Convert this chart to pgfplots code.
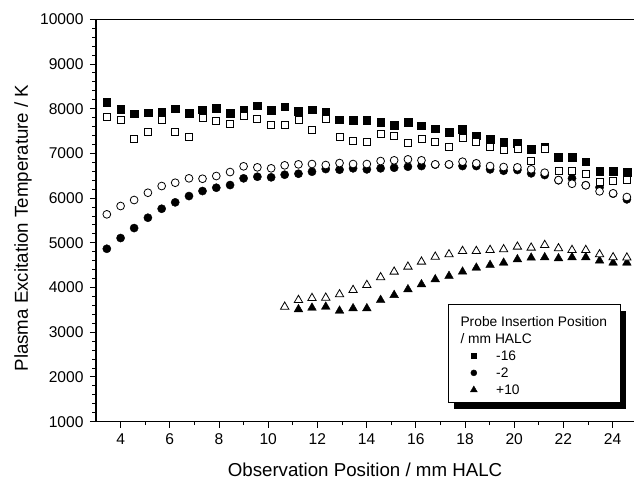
\documentclass[border=0pt]{standalone}
\usepackage{pgfplots}
\pgfplotsset{compat=1.18}
\usepackage{pgfplotstable}
\usepackage{fontspec}
\setmainfont{Liberation Sans}
\usetikzlibrary{shadows}

\pgfplotstableread{
x sqf sqo cif cio
3.44 8143 7821 4868 5638
4.00 7987 7747 5108 5824
4.55 7888 7329 5331 5958
5.11 7911 7472 5562 6121
5.67 7920 7754 5763 6271
6.22 8000 7486 5906 6345
6.78 7904 7374 6047 6443
7.33 7978 7799 6159 6434
7.89 8009 7725 6233 6495
8.45 7904 7665 6293 6584
9.00 7971 7844 6443 6712
9.56 8067 7770 6479 6689
10.12 7971 7642 6466 6667
10.67 8045 7629 6524 6734
11.23 7949 7747 6546 6756
11.78 7978 7524 6591 6763
12.34 7920 7763 6651 6741
12.90 7754 7367 6636 6785
13.45 7741 7277 6667 6763
14.01 7747 7248 6644 6763
14.57 7703 7434 6667 6830
15.12 7636 7389 6680 6846
15.68 7696 7226 6703 6868
16.23 7620 7329 6718 6846
16.79 7553 7248 6750 6756
17.35 7479 7137 6750 6756
17.90 7539 7351 6718 6815
18.46 7396 7255 6718 6779
19.02 7322 7137 6644 6718
19.57 7255 7083 6613 6696
20.13 7233 7092 6630 6689
20.69 7092 6837 6555 6644
21.24 7150 7092 6517 6569
21.80 6913 6613 6400 6405
22.35 6913 6613 6443 6322
22.91 6815 6539 6290 6287
23.47 6606 6367 6242 6152
24.02 6600 6389 6100 6108
24.58 6584 6405 5973 6025
}\mainT

\pgfplotstableread{
x trf tro
10.67 nan 3571
11.23 3513 3721
11.78 3548 3765
12.34 3571 3772
12.90 3481 3848
13.45 3535 3944
14.01 3535 4056
14.57 3721 4229
15.12 3832 4354
15.68 3960 4466
16.23 4072 4578
16.79 4184 4689
17.35 4258 4743
17.90 4354 4817
18.46 4443 4817
19.02 4504 4839
19.57 4555 4855
20.13 4631 4913
20.69 4667 4891
21.24 4676 4951
21.80 4654 4877
22.35 4676 4839
22.91 4676 4839
23.47 4600 4743
24.02 4555 4676
24.58 4555 4670
}\triT

\begin{document}
\begin{tikzpicture}
\begin{axis}[
  at={(0pt,0pt)}, anchor=south west,
  scale only axis, width=538pt, height=402.4pt,
  xmin=3, xmax=24.87, ymin=1000, ymax=10000,
  axis x line*=box, axis y line*=left,
  axis line style={line width=1.1pt, black},
  tick pos=left, tick align=outside,
  xtick={4,6,...,24}, minor x tick num=1,
  ytick={1000,2000,...,10000}, minor y tick num=4,
  scaled y ticks=false, scaled x ticks=false,
  major tick length=6pt, minor tick length=3.5pt,
  every tick/.style={black, line width=1pt},
  /pgf/number format/assume math mode=true,
  /pgf/number format/1000 sep={},
  tick label style={font=\fontsize{15.6}{17}\selectfont},
  yticklabel style={xshift=-3pt},
  xticklabel style={yshift=-2.5pt},
  label style={font=\fontsize{18.7}{22}\selectfont},
  xlabel={Observation Position / mm HALC},
  ylabel={Plasma Excitation Temperature / K},
  xlabel style={at={(axis description cs:0.5,-0.135)}, anchor=base},
  ylabel style={at={(axis description cs:-0.1357,0.4814)}, anchor=center},
  legend image code/.code={\path (-15pt,0pt) (10pt,0pt); \draw[#1] plot coordinates {(0pt,4.9pt)};},
  legend style={
    at={(axis cs:17.31,3631)}, anchor=north west,
    draw=black, line width=0.8pt, fill=white,
    inner xsep=10pt, inner ysep=6.2pt,
    column sep=9pt,
    font=\fontsize{13.8}{16}\selectfont,
    cells={anchor=base west},
    nodes={inner xsep=3pt, inner ysep=1.3pt, text height=14.5pt, text depth=0pt},
    drop shadow={shadow xshift=6pt, shadow yshift=-7pt, fill=black, opacity=1, draw=none},
  },
]
\addlegendimage{empty legend}
\addlegendentry{\hspace*{-35.7pt}Probe Insertion Position}
\addlegendimage{empty legend}
\addlegendentry{\hspace*{-35.7pt}/ mm HALC}

\addplot[only marks, mark=square*, mark size=3.85pt, mark options={fill=black, draw=black, line width=0.4pt}, legend image post style={mark size=2.8pt}] table[x=x, y=sqf]{\mainT};
\addlegendentry{-16}
\addplot[only marks, mark=*, mark size=4.1pt, mark options={fill=black, draw=black, line width=0.4pt}, legend image post style={mark size=3pt}] table[x=x, y=cif]{\mainT};
\addlegendentry{-2}
\addplot[only marks, mark=triangle*, mark size=5pt, mark options={fill=black, draw=black, line width=0.4pt}, legend image post style={mark size=4pt}] table[x=x, y=trf]{\triT};
\addlegendentry{+10}

\addplot[forget plot, only marks, mark=square*, mark size=3.5pt, mark options={fill=white, draw=black, line width=0.8pt}] table[x=x, y=sqo]{\mainT};
\addplot[forget plot, only marks, mark=*, mark size=3.9pt, mark options={fill=white, draw=black, line width=0.8pt}] table[x=x, y=cio]{\mainT};
\addplot[forget plot, only marks, mark=triangle*, mark size=4.8pt, mark options={fill=white, draw=black, line width=0.8pt}] table[x=x, y=tro]{\triT};
\end{axis}
\pgfresetboundingbox
\path[use as bounding box] (-96pt,-57.3pt) rectangle (538pt,421.7pt);
\end{tikzpicture}
\end{document}
